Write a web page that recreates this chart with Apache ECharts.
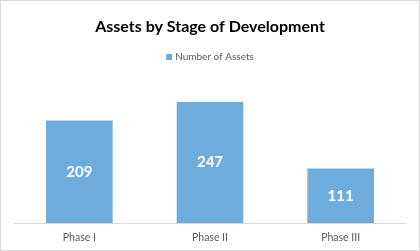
<!DOCTYPE html>
<html>
<head>
<meta charset="utf-8">
<script src="https://cdn.jsdelivr.net/npm/echarts@6/dist/echarts.min.js"></script>
<style>
html,body{margin:0;padding:0;background:#fff;}
#c{width:418px;height:249px;border:1px solid #D9D9D9;}
</style>
</head>
<body>
<div id="c"></div>
<script>
const categories = ['Phase I', 'Phase II', 'Phase III'];
const assets = [209, 247, 111];
const seriesName = 'Number of Assets';

const chart = echarts.init(document.getElementById('c'));
chart.setOption({
  animation: false,
  title: {
    text: 'Assets by Stage of Development',
    left: 'center',
    top: 13,
    textStyle: { fontFamily: 'Lato', fontSize: 16, fontWeight: 'bold', color: '#000' }
  },
  legend: {
    data: [seriesName],
    top: 46,
    left: 'center',
    icon: 'rect',
    itemWidth: 6,
    itemHeight: 6,
    itemGap: 4,
    textStyle: { fontFamily: 'Lato', fontSize: 10, color: '#595959', padding: [0,0,0,-2] }
  },
  grid: { left: 13, right: 13, top: 75, bottom: 27, containLabel: false },
  xAxis: {
    type: 'category',
    data: categories,
    axisLine: { lineStyle: { color: '#D9D9D9' } },
    axisTick: { show: false },
    axisLabel: { fontFamily: 'Lato', fontSize: 10.5, color: '#595959', margin: 9 }
  },
  yAxis: {
    type: 'value',
    min: 0, max: 300, interval: 50,
    show: false,
    splitLine: { show: false }
  },
  series: [{
    name: seriesName,
    type: 'bar',
    data: assets,
    barWidth: '51%',
    itemStyle: { color: '#6FACDE' },
    label: {
      show: true,
      position: 'inside',
      fontFamily: 'Lato',
      fontSize: 15,
      fontWeight: 'bold',
      color: '#fff'
    }
  }]
});
</script>
</body>
</html>
